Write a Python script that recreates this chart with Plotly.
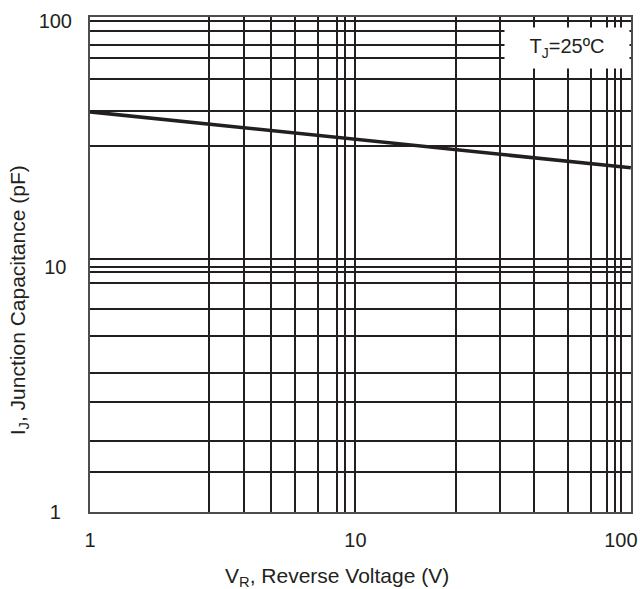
import plotly.graph_objects as go

# Data (log-log, straight line)
voltage = [1, 2, 5, 10, 20, 50, 100, 109]
capacitance = [42.8, 39.6, 35.8, 33.0, 30.5, 27.5, 25.5, 25.3]

# Labelled decades and the extra datasheet-style grid line values
x_major = [1, 10, 100]
y_major = [1, 10, 100]
x_major_text = ["1", "10", "100"]
y_major_text = ["1\u00a0\u00a0", "10\u00a0", "100"]
x_grid = [2.8, 3.8, 4.8, 5.9, 7.2, 8.5, 9.1, 24, 35, 47, 63, 77, 89, 95]
y_grid = [1.45, 1.95, 2.8, 3.7, 5.2, 6.7, 8.6, 9.5, 10.8, 31, 43, 58, 71, 80, 91]

ink = "#231f20"
font = "Liberation Sans, Arial, sans-serif"

fig = go.Figure()
fig.add_trace(go.Scatter(x=voltage, y=capacitance, mode="lines",
                         line=dict(color=ink, width=3.6), showlegend=False,
                         hoverinfo="skip"))

fig.update_layout(
    width=640, height=589,
    margin=dict(l=90, r=9, t=17, b=77),
    paper_bgcolor="white", plot_bgcolor="white",
    font=dict(family=font, size=20, color=ink),
    showlegend=False,
)
axis_common = dict(type="log", tickmode="array", ticks="",
                   showgrid=True, gridcolor=ink, gridwidth=1.7,
                   showline=True, linecolor="#4d4d4d", linewidth=2, mirror=True,
                   zeroline=False, automargin=False,
                   tickfont=dict(family=font, size=20, color=ink))
fig.update_xaxes(range=[0, 2.038], tickvals=x_major, ticktext=x_major_text,
                 ticklabelstandoff=9,
                 minor=dict(tickmode="array", tickvals=x_grid, ticks="",
                            showgrid=True, gridcolor=ink, gridwidth=1.7),
                 **axis_common)
fig.update_yaxes(range=[0, 2.018], tickvals=y_major, ticktext=y_major_text,
                 ticklabelstandoff=12,
                 minor=dict(tickmode="array", tickvals=y_grid, ticks="",
                            showgrid=True, gridcolor=ink, gridwidth=1.7),
                 **axis_common)

# Condition label box
fig.add_annotation(xref="paper", yref="paper", x=0.998, y=0.98,
                   xanchor="right", yanchor="top",
                   text="T<sub>J</sub>=25ºC", showarrow=False,
                   bgcolor="white", width=124, height=40, borderpad=0,
                   font=dict(family=font, size=20, color=ink))

# Axis titles
fig.add_annotation(xref="paper", yref="paper", x=0.457, y=-0.131,
                   xanchor="center", yanchor="middle",
                   text="V<sub>R</sub>, Reverse Voltage (V)", showarrow=False,
                   font=dict(family=font, size=21, color=ink))
fig.add_annotation(xref="paper", yref="paper", x=-0.131, y=0.428,
                   xanchor="center", yanchor="middle", textangle=-90,
                   text="I<sub>J</sub>, Junction Capacitance (pF)", showarrow=False,
                   font=dict(family=font, size=21, color=ink))

fig.write_html("out.html", config={"displayModeBar": False},
               post_script="document.body.style.margin='0';")
